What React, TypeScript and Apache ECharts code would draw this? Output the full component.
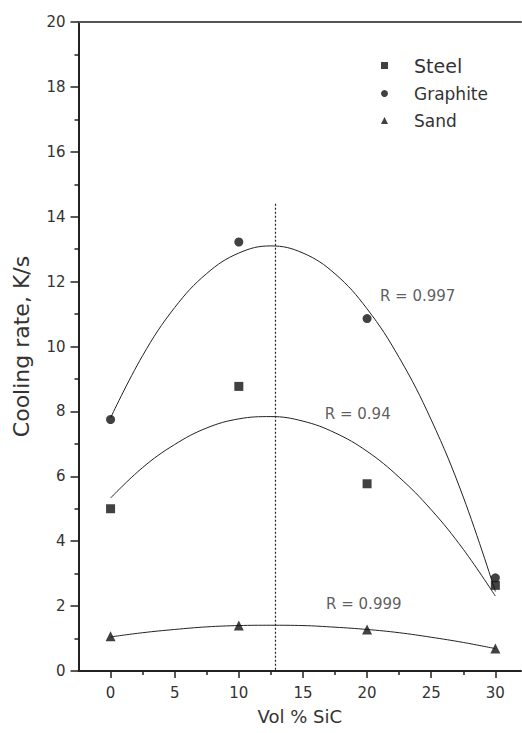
import React, { useEffect, useRef } from "react";
import * as echarts from "echarts";

const xValues = [0, 10, 20, 30];
const steel = [5.0, 8.77, 5.77, 2.64];
const graphite = [7.75, 13.22, 10.86, 2.87];
const sand = [1.07, 1.4, 1.28, 0.69];

const fitX = [0, 2.5, 5, 7.5, 10, 12.5, 15, 17.5, 20, 22.5, 25, 27.5, 30];
const steelFit = [5.33, 6.27, 6.98, 7.49, 7.77, 7.84, 7.7, 7.34, 6.77, 5.97, 4.97, 3.75, 2.31];
const graphiteFit = [7.8, 9.72, 11.2, 12.25, 12.88, 13.1, 12.88, 12.24, 11.16, 9.66, 7.74, 5.36, 2.45];
const sandFit = [1.05, 1.18, 1.28, 1.36, 1.4, 1.41, 1.4, 1.35, 1.28, 1.18, 1.04, 0.88, 0.69];

const xMajorTicks = [0, 5, 10, 15, 20, 25, 30];
const xMinorTicks = [2.5, 7.5, 12.5, 17.5, 22.5, 27.5];

const peakLineX = 12.86;
const peakLineTop = 14.4;

const annotations = [
  { name: "R = 0.997", x: 21.0, y: 11.55 },
  { name: "R = 0.94", x: 16.7, y: 7.93 },
  { name: "R = 0.999", x: 16.8, y: 2.06 },
];

const FONT = "DejaVu Sans";
const INK = "#222";
const TXT = "#333";

export default function App() {
  const ref = useRef<HTMLDivElement>(null);
  useEffect(() => {
    if (!ref.current) return;
    const chart = echarts.init(ref.current, undefined, { renderer: "svg" });
    const pair = (xs: number[], ys: number[]) => xs.map((x, i) => [x, ys[i]]);
    const xCommon = { type: "value", min: -2.5, max: 32, splitLine: { show: false } };
    const option: any = {
      animation: false,
      backgroundColor: "#fff",
      grid: { left: 78.5, right: 1, top: 22, bottom: 62, containLabel: false },
      legend: {
        orient: "vertical",
        left: 376,
        top: 51,
        itemWidth: 7,
        itemHeight: 7,
        itemGap: 10,
        selectedMode: false,
        textStyle: { fontFamily: FONT, fontSize: 17, color: TXT, padding: [0, 0, 0, 21] },
        data: [
          { name: "Steel", icon: "rect", textStyle: { fontSize: 19 } },
          { name: "Graphite", icon: "circle" },
          { name: "Sand", icon: "triangle" },
        ],
      },
      xAxis: [
        {
          ...xCommon,
          position: "bottom",
          name: "Vol % SiC",
          nameLocation: "middle",
          nameGap: 36,
          nameTextStyle: { fontFamily: FONT, fontSize: 18, color: TXT },
          axisLine: { show: true, onZero: false, lineStyle: { color: INK, width: 2 } },
          axisTick: { show: true, customValues: xMajorTicks, length: 7, lineStyle: { color: INK, width: 1.5 } },
          axisLabel: { customValues: xMajorTicks, margin: 14, fontFamily: FONT, fontSize: 15, color: TXT },
        },
        {
          ...xCommon,
          position: "bottom",
          axisLine: { show: false },
          axisTick: { show: true, customValues: xMinorTicks, length: 4, lineStyle: { color: INK, width: 1.5 } },
          axisLabel: { show: false },
        },
        {
          ...xCommon,
          position: "top",
          axisLine: { show: true, onZero: false, lineStyle: { color: "#555", width: 2 } },
          axisTick: { show: false },
          axisLabel: { show: false },
        },
      ],
      yAxis: {
        type: "value",
        min: 0,
        max: 20,
        interval: 2,
        name: "Cooling rate, K/s",
        nameLocation: "middle",
        nameGap: 46,
        nameTextStyle: { fontFamily: FONT, fontSize: 22, color: TXT },
        splitLine: { show: false },
        axisLine: { show: true, onZero: false, lineStyle: { color: INK, width: 2 } },
        axisTick: { show: true, length: 8, lineStyle: { color: INK, width: 1.5 } },
        minorTick: { show: true, splitNumber: 2, length: 4, lineStyle: { color: INK, width: 1.5 } },
        axisLabel: { margin: 13, fontFamily: FONT, fontSize: 15, color: TXT },
      },
      series: [
        {
          name: "steelFit",
          type: "line",
          smooth: 0.4,
          symbol: "none",
          lineStyle: { color: INK, width: 1 },
          data: pair(fitX, steelFit),
          z: 2,
        },
        {
          name: "graphiteFit",
          type: "line",
          smooth: 0.4,
          symbol: "none",
          lineStyle: { color: INK, width: 1 },
          data: pair(fitX, graphiteFit),
          z: 2,
          markLine: {
            silent: true,
            symbol: "none",
            label: { show: false },
            lineStyle: { color: INK, type: [2, 2], width: 1.2 },
            data: [[{ coord: [peakLineX, peakLineTop] }, { coord: [peakLineX, 0] }]],
          },
        },
        {
          name: "sandFit",
          type: "line",
          smooth: 0.4,
          symbol: "none",
          lineStyle: { color: INK, width: 1 },
          data: pair(fitX, sandFit),
          z: 2,
        },
        {
          name: "Steel",
          type: "scatter",
          symbol: "rect",
          symbolSize: 9,
          itemStyle: { color: "#111" },
          data: pair(xValues, steel),
          z: 5,
        },
        {
          name: "Graphite",
          type: "scatter",
          symbol: "circle",
          symbolSize: 9,
          itemStyle: { color: "#111" },
          data: pair(xValues, graphite),
          z: 5,
        },
        {
          name: "Sand",
          type: "scatter",
          symbol: "triangle",
          symbolSize: 10,
          itemStyle: { color: "#111" },
          data: pair(xValues, sand),
          z: 5,
        },
        {
          name: "annotations",
          type: "scatter",
          symbolSize: 0,
          silent: true,
          label: {
            show: true,
            position: "right",
            distance: 0,
            formatter: (p: any) => p.name,
            fontFamily: FONT,
            fontSize: 15,
            color: TXT,
          },
          data: annotations.map((a) => ({ name: a.name, value: [a.x, a.y] })),
          z: 6,
        },
      ],
    };
    chart.setOption(option);
    return () => chart.dispose();
  }, []);
  return (
    <div
      ref={ref}
      style={{ position: "fixed", left: 0, top: 0, width: 522, height: 733, background: "#fff" }}
    />
  );
}
